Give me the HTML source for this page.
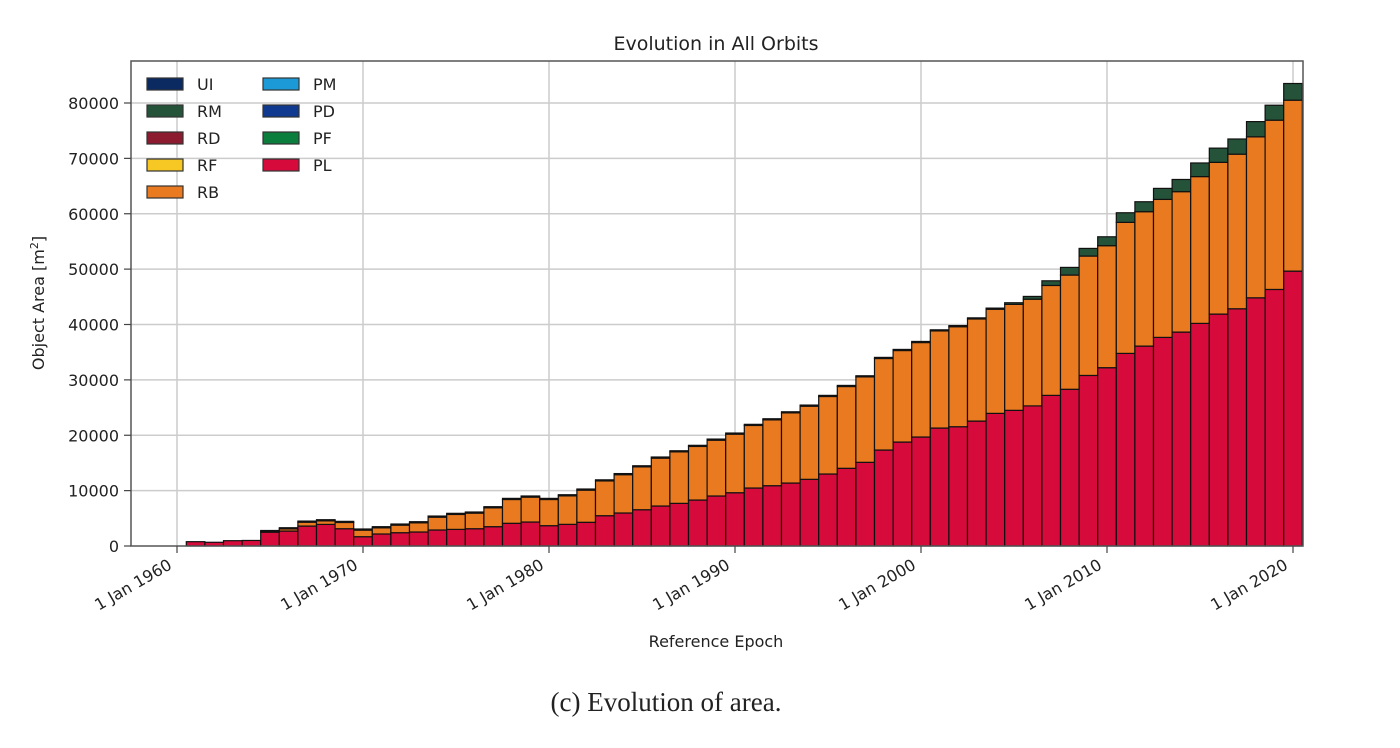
<!DOCTYPE html>
<html><head><meta charset="utf-8"><style>
body{margin:0;background:#fff;width:1400px;height:743px;overflow:hidden}
svg text{font-family:"DejaVu Sans","Liberation Sans",sans-serif;fill:#222}
</style></head><body>
<svg id="chart" width="1400" height="743" xmlns="http://www.w3.org/2000/svg">
<text x="716" y="50" font-size="19" text-anchor="middle">Evolution in All Orbits</text>
<g id="grid"></g>
<g id="bars"></g>
<rect x="131" y="61" width="1172" height="485" fill="none" stroke="#555" stroke-width="1.5"/>
<g id="axes"></g>
<text transform="translate(44,303) rotate(-90)" font-size="16" text-anchor="middle">Object Area [m<tspan font-size="11" dy="-6">2</tspan><tspan dy="6">]</tspan></text>
<text x="716" y="647" font-size="16" text-anchor="middle">Reference Epoch</text>
<g id="legend"></g>
<text x="666" y="711" font-size="27" text-anchor="middle" style="font-family:'Liberation Serif',serif">(c) Evolution of area.</text>
</svg>
<script>
const years=[1961,1962,1963,1964,1965,1966,1967,1968,1969,1970,1971,1972,1973,1974,1975,1976,1977,1978,1979,1980,1981,1982,1983,1984,1985,1986,1987,1988,1989,1990,1991,1992,1993,1994,1995,1996,1997,1998,1999,2000,2001,2002,2003,2004,2005,2006,2007,2008,2009,2010,2011,2012,2013,2014,2015,2016,2017,2018,2019,2020];
const plValues=[780,670,960,1000,2500,2700,3600,3900,3120,1680,2170,2400,2530,2890,3000,3120,3490,4100,4330,3670,3910,4280,5470,5960,6550,7220,7700,8300,9030,9620,10470,10890,11370,12040,13000,14030,15110,17330,18770,19680,21300,21540,22560,23950,24500,25300,27200,28300,30800,32200,34780,36100,37670,38630,40200,41880,42840,44820,46330,49640];
const rbValues=[0,0,0,0,100,400,700,650,1130,1190,1120,1370,1660,2320,2700,2820,3410,4300,4500,4730,5150,5810,6280,6920,7740,8650,9300,9680,10080,10580,11300,11890,12670,13210,14000,14770,15430,16530,16530,17060,17540,18060,18440,18810,19130,19270,19850,20630,21560,22030,23660,24270,24920,25360,26510,27400,27920,29070,30570,30870];
const rmValues=[0,0,0,0,200,200,200,200,200,200,200,200,200,200,200,200,200,200,200,200,200,200,200,200,200,200,200,200,200,200,200,200,200,200,200,200,200,200,200,200,200,200,200,200,300,500,840,1380,1380,1610,1740,1800,1990,2200,2460,2570,2740,2750,2700,3010];
const yTicks=[0,10000,20000,30000,40000,50000,60000,70000,80000];
const xTickYears=[1960,1970,1980,1990,2000,2010,2020];
const legendLabels=["UI","RM","RD","RF","RB","PM","PD","PF","PL"];
const legendColors=["#0c2a62","#25533a","#8c1b2f","#f7c824","#e97a1f","#1c9ad8","#0f3a90","#0b7d3c","#d60b3b"];
const NS="http://www.w3.org/2000/svg";
const X0=131,X1=1303,Y0=546,YT=61;
const x=yr=>177+(yr-1960)*18.6;
const y=v=>546-v*(443/80000);
function mk(tag,attrs,parent){const e=document.createElementNS(NS,tag);for(const k in attrs)e.setAttribute(k,attrs[k]);parent.appendChild(e);return e;}
const grid=document.getElementById('grid'),axes=document.getElementById('axes'),bars=document.getElementById('bars'),legend=document.getElementById('legend');
yTicks.forEach(t=>{
 if(t>0){const l=mk('line',{x1:X0,x2:X1,y1:y(t),y2:y(t),stroke:'#ccc','stroke-width':1.5},grid);
 
 }
 const tk=mk('line',{x1:X0-7,x2:X0,y1:y(t),y2:y(t),stroke:'#444','stroke-width':1.2},axes);
 
 
 const tx=mk('text',{x:X0-12,y:y(t)+6,'font-size':16,'text-anchor':'end'},axes);tx.textContent=t;
 
 
});
xTickYears.forEach(yr=>{
 const l=mk('line',{x1:x(yr),x2:x(yr),y1:YT,y2:Y0,stroke:'#ccc','stroke-width':1.5},grid);
 
 
 const tk=mk('line',{x1:x(yr),x2:x(yr),y1:Y0,y2:Y0+7,stroke:'#444','stroke-width':1.2},axes);
 
 
 const tx=mk('text',{transform:`translate(${x(yr)-4},${Y0+22}) rotate(-30)`,'font-size':16,'text-anchor':'end'},axes);tx.textContent='1 Jan '+yr;
 
 
});
const bw=18.6;
years.forEach((yr,i)=>{
 const layers=[[plValues[i],'#d60b3b','pl'],[rbValues[i],'#e97a1f','rb'],[rmValues[i],'#25533a','rm']];
 let base=0;
 layers.forEach(([v,c,n])=>{
  if(v<=0)return;
  const r=mk('rect',{x:x(yr)-bw/2,y:y(base+v),width:bw,height:y(base)-y(base+v),fill:c,stroke:'#111','stroke-width':1.2},bars);
  
  
  base+=v;
 });
});
legendLabels.forEach((lab,i)=>{
 const col=i<5?0:1,row=i<5?i:i-5;
 const sx=147+col*116,sy=78+row*27;
 const g=mk('g',{},legend);
 
 
 mk('rect',{x:sx,y:sy,width:36,height:12,fill:legendColors[i],stroke:'#333','stroke-width':1.2},g);
 const t=mk('text',{x:sx+50,y:sy+12,'font-size':16},g);t.textContent=lab;
});
</script>
</body></html>
